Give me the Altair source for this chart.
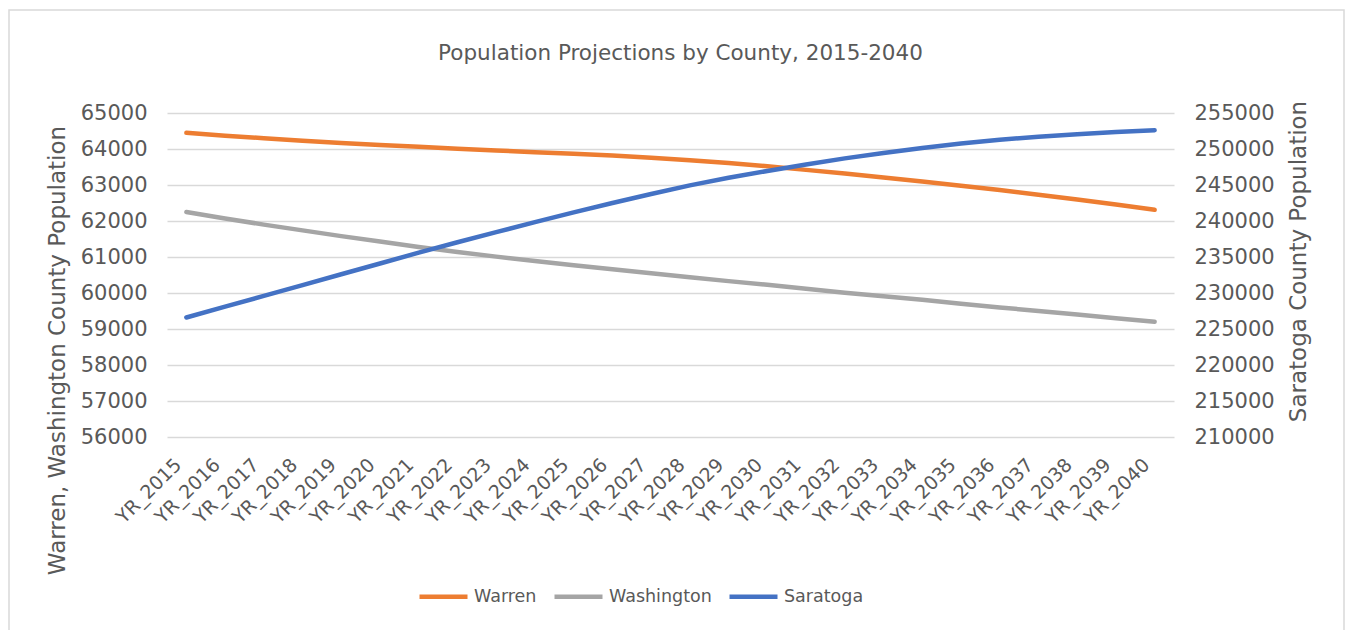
import altair as alt
import pandas as pd

years = ["YR_2015", "YR_2016", "YR_2017", "YR_2018", "YR_2019", "YR_2020", "YR_2021",
         "YR_2022", "YR_2023", "YR_2024", "YR_2025", "YR_2026", "YR_2027", "YR_2028",
         "YR_2029", "YR_2030", "YR_2031", "YR_2032", "YR_2033", "YR_2034", "YR_2035",
         "YR_2036", "YR_2037", "YR_2038", "YR_2039", "YR_2040"]

warren = [64450, 64370, 64300, 64230, 64170, 64110, 64060, 64010, 63960, 63910,
          63870, 63820, 63760, 63690, 63610, 63520, 63420, 63320, 63210, 63100,
          62980, 62860, 62730, 62600, 62460, 62310]

washington = [62250, 62070, 61900, 61740, 61580, 61430, 61280, 61140, 61010, 60890,
              60770, 60660, 60550, 60440, 60330, 60230, 60120, 60010, 59910, 59810,
              59700, 59600, 59500, 59400, 59300, 59200]

saratoga = [226600, 228100, 229600, 231100, 232600, 234100, 235600, 237050, 238450, 239850,
            241200, 242500, 243750, 244950, 246000, 246950, 247850, 248700, 249450, 250150,
            250750, 251300, 251700, 252050, 252350, 252600]

counties = ["Warren", "Washington", "Saratoga"]
colors = ["#ED7D31", "#A5A5A5", "#4472C4"]

left_ticks = [56000, 57000, 58000, 59000, 60000, 61000, 62000, 63000, 64000, 65000]
right_ticks = [210000, 215000, 220000, 225000, 230000, 235000, 240000, 245000, 250000, 255000]

df_left = pd.DataFrame({
    "year": years + years,
    "value": warren + washington,
    "county": ["Warren"] * len(years) + ["Washington"] * len(years),
})
df_right = pd.DataFrame({
    "year": years,
    "value": saratoga,
    "county": ["Saratoga"] * len(years),
})

FONT = "DejaVu Sans"
TXT = "#595959"

x_enc = alt.X(
    "year:N",
    sort=years,
    scale=alt.Scale(type="point", padding=0.5),
    axis=alt.Axis(
        title=None, labelAngle=-45, labelFontSize=19, labelFont=FONT, labelColor=TXT,
        domain=False, ticks=False, labelPadding=18, labelOffset=-15, grid=False,
    ),
)

color_enc = alt.Color(
    "county:N",
    scale=alt.Scale(domain=counties, range=colors),
    legend=alt.Legend(
        title=None, orient="none", legendX=250, legendY=457, direction="horizontal",
        symbolType="stroke", symbolSize=2304, symbolStrokeWidth=4.5,
        labelFontSize=17.5, labelFont=FONT, labelColor=TXT, columnPadding=8,
        labelOffset=4, padding=0,
    ),
)

left = alt.Chart(df_left).mark_line(strokeWidth=4.5, strokeCap="round", strokeJoin="round").encode(
    x=x_enc,
    y=alt.Y(
        "value:Q",
        scale=alt.Scale(domain=[56000, 65000], nice=False, zero=False),
        axis=alt.Axis(
            orient="left", values=left_ticks, format="d", title="Warren,  Washington County Population",
            titleFontSize=23, titleFont=FONT, titleColor=TXT, titleFontWeight="normal",
            titleAngle=-90, titleX=-110, titleY=237, titleAlign="center", titleBaseline="middle",
            labelFontSize=21, labelFont=FONT, labelColor=TXT, labelPadding=20,
            domain=False, ticks=False, grid=True, gridColor="#d9d9d9", gridWidth=1.5,
        ),
    ),
    color=color_enc,
)

right = alt.Chart(df_right).mark_line(strokeWidth=4.5, strokeCap="round", strokeJoin="round").encode(
    x=x_enc,
    y=alt.Y(
        "value:Q",
        scale=alt.Scale(domain=[210000, 255000], nice=False, zero=False),
        axis=alt.Axis(
            orient="right", values=right_ticks, format="d", title="Saratoga County Population",
            titleFontSize=23, titleFont=FONT, titleColor=TXT, titleFontWeight="normal",
            titleAngle=-90, titleX=124, titleY=148, titleAlign="center", titleBaseline="middle",
            labelFontSize=21, labelFont=FONT, labelColor=TXT, labelPadding=20,
            domain=False, ticks=False, grid=False,
        ),
    ),
    color=color_enc,
)

border = alt.Chart(pd.DataFrame({"a": [0]})).mark_rect(
    fillOpacity=0, stroke="#d9d9d9", strokeWidth=1.5
).encode(
    x=alt.value(-158), x2=alt.value(1177), y=alt.value(-103), y2=alt.value(560)
)

chart = alt.layer(border, left, right).resolve_scale(y="independent").properties(
    width=1007,
    height=324,
    title=alt.TitleParams(
        "Population Projections by County, 2015-2040",
        fontSize=21.5, font=FONT, color=TXT, fontWeight="normal", anchor="middle",
        frame="group", offset=-55, dx=10,
    ),
    autosize=alt.AutoSizeParams(type="none"),
    padding={"left": 159, "top": 105, "right": 171, "bottom": 193},
).configure_view(stroke=None)

chart.save("out.html", embed_options={"renderer": "svg", "actions": False})
